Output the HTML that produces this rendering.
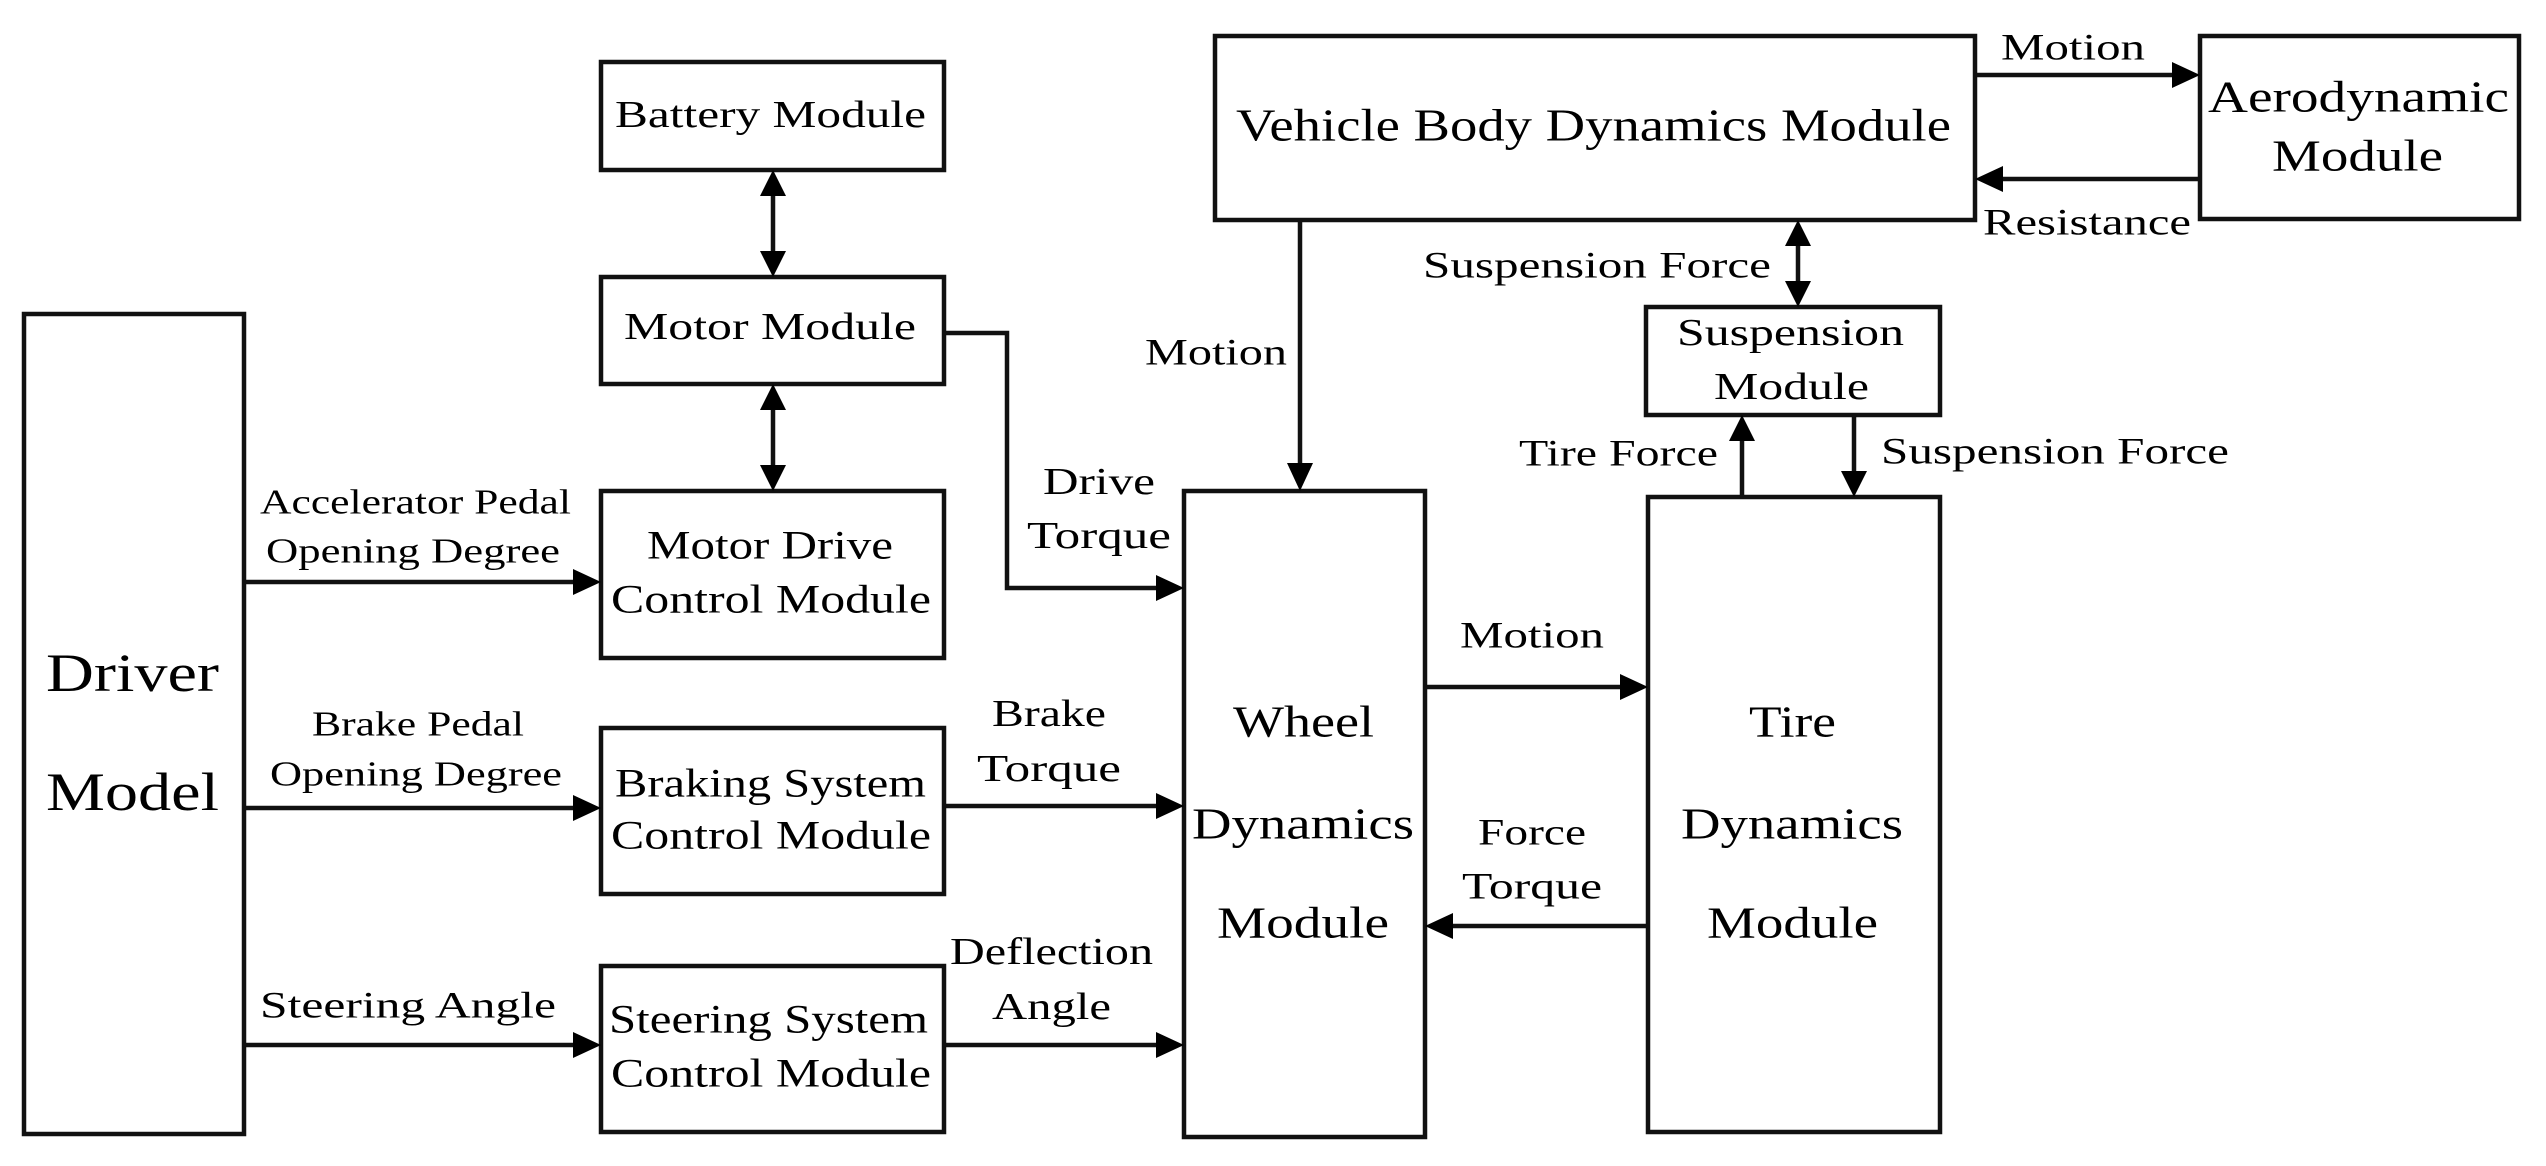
<!DOCTYPE html>
<html><head><meta charset="utf-8"><style>html,body{margin:0;padding:0;background:#fff}svg{display:block}</style></head>
<body>
<svg width="2546" height="1166" viewBox="0 0 2546 1166" xmlns="http://www.w3.org/2000/svg" font-family="'Liberation Serif', serif" fill="#000">
<g fill="none" stroke="#111" stroke-width="4.5">
<rect x="24" y="314" width="220" height="820"/>
<rect x="601" y="62" width="343" height="108"/>
<rect x="601" y="277" width="343" height="107"/>
<rect x="601" y="491" width="343" height="167"/>
<rect x="601" y="728" width="343" height="166"/>
<rect x="601" y="966" width="343" height="166"/>
<rect x="1215" y="36" width="760" height="184"/>
<rect x="2200" y="36" width="319" height="183"/>
<rect x="1646" y="307" width="294" height="108"/>
<rect x="1184" y="491" width="241" height="646"/>
<rect x="1648" y="497" width="292" height="635"/>
<line x1="773" y1="190" x2="773" y2="257"/>
<line x1="773" y1="404" x2="773" y2="471"/>
<line x1="244" y1="582" x2="575" y2="582"/>
<line x1="244" y1="808" x2="575" y2="808"/>
<line x1="244" y1="1045" x2="575" y2="1045"/>
<polyline points="944,333 1007,333 1007,588 1158,588"/>
<line x1="944" y1="806" x2="1158" y2="806"/>
<line x1="944" y1="1045" x2="1158" y2="1045"/>
<line x1="1975" y1="75" x2="2174" y2="75"/>
<line x1="2200" y1="179" x2="2001" y2="179"/>
<line x1="1300" y1="220" x2="1300" y2="465"/>
<line x1="1798" y1="240" x2="1798" y2="287"/>
<line x1="1742" y1="497" x2="1742" y2="435"/>
<line x1="1854" y1="415" x2="1854" y2="477"/>
<line x1="1425" y1="687" x2="1622" y2="687"/>
<line x1="1648" y1="926" x2="1451" y2="926"/>
</g>
<g fill="#000">
<polygon points="773,170 760,196 786,196"/><polygon points="773,277 760,251 786,251"/>
<polygon points="773,384 760,410 786,410"/><polygon points="773,491 760,465 786,465"/>
<polygon points="601,582 573,569 573,595"/>
<polygon points="601,808 573,795 573,821"/>
<polygon points="601,1045 573,1032 573,1058"/>
<polygon points="1184,588 1156,575 1156,601"/>
<polygon points="1184,806 1156,793 1156,819"/>
<polygon points="1184,1045 1156,1032 1156,1058"/>
<polygon points="2200,75 2172,62 2172,88"/>
<polygon points="1975,179 2003,166 2003,192"/>
<polygon points="1300,491 1287,463 1313,463"/>
<polygon points="1798,220 1785,246 1811,246"/><polygon points="1798,307 1785,281 1811,281"/>
<polygon points="1742,415 1729,441 1755,441"/>
<polygon points="1854,497 1841,471 1867,471"/>
<polygon points="1648,687 1620,674 1620,700"/>
<polygon points="1425,926 1453,913 1453,939"/>
</g>
<g dominant-baseline="central" lengthAdjust="spacingAndGlyphs">
<text x="46" y="673" font-size="54" textLength="173" lengthAdjust="spacingAndGlyphs">Driver</text>
<text x="46" y="792" font-size="54" textLength="173" lengthAdjust="spacingAndGlyphs">Model</text>
<text x="615" y="115" font-size="38" textLength="311" lengthAdjust="spacingAndGlyphs">Battery Module</text>
<text x="624" y="327" font-size="38" textLength="292" lengthAdjust="spacingAndGlyphs">Motor Module</text>
<text x="647" y="545" font-size="40" textLength="246" lengthAdjust="spacingAndGlyphs">Motor Drive</text>
<text x="611" y="599" font-size="40" textLength="320" lengthAdjust="spacingAndGlyphs">Control Module</text>
<text x="615" y="783" font-size="40" textLength="311" lengthAdjust="spacingAndGlyphs">Braking System</text>
<text x="611" y="835" font-size="40" textLength="320" lengthAdjust="spacingAndGlyphs">Control Module</text>
<text x="609" y="1019" font-size="40" textLength="319" lengthAdjust="spacingAndGlyphs">Steering System</text>
<text x="611" y="1073" font-size="40" textLength="320" lengthAdjust="spacingAndGlyphs">Control Module</text>
<text x="260" y="502" font-size="35" textLength="311" lengthAdjust="spacingAndGlyphs">Accelerator Pedal</text>
<text x="266" y="551" font-size="35" textLength="294" lengthAdjust="spacingAndGlyphs">Opening Degree</text>
<text x="312" y="724" font-size="35" textLength="212" lengthAdjust="spacingAndGlyphs">Brake Pedal</text>
<text x="270" y="774" font-size="35" textLength="292" lengthAdjust="spacingAndGlyphs">Opening Degree</text>
<text x="260" y="1006" font-size="37" textLength="296" lengthAdjust="spacingAndGlyphs">Steering Angle</text>
<text x="1043" y="482" font-size="38" textLength="112" lengthAdjust="spacingAndGlyphs">Drive</text>
<text x="1027" y="536" font-size="38" textLength="144" lengthAdjust="spacingAndGlyphs">Torque</text>
<text x="992" y="714" font-size="38" textLength="114" lengthAdjust="spacingAndGlyphs">Brake</text>
<text x="977" y="769" font-size="38" textLength="144" lengthAdjust="spacingAndGlyphs">Torque</text>
<text x="950" y="952" font-size="38" textLength="203" lengthAdjust="spacingAndGlyphs">Deflection</text>
<text x="992" y="1007" font-size="38" textLength="119" lengthAdjust="spacingAndGlyphs">Angle</text>
<text x="1145" y="353" font-size="37" textLength="142" lengthAdjust="spacingAndGlyphs">Motion</text>
<text x="1236" y="125" font-size="46" textLength="715" lengthAdjust="spacingAndGlyphs">Vehicle Body Dynamics Module</text>
<text x="2001" y="48" font-size="37" textLength="144" lengthAdjust="spacingAndGlyphs">Motion</text>
<text x="1983" y="223" font-size="37" textLength="208" lengthAdjust="spacingAndGlyphs">Resistance</text>
<text x="2208" y="97" font-size="44" textLength="301" lengthAdjust="spacingAndGlyphs">Aerodynamic</text>
<text x="2272" y="156" font-size="44" textLength="171" lengthAdjust="spacingAndGlyphs">Module</text>
<text x="1423" y="266" font-size="37" textLength="348" lengthAdjust="spacingAndGlyphs">Suspension Force</text>
<text x="1677" y="333" font-size="38" textLength="227" lengthAdjust="spacingAndGlyphs">Suspension</text>
<text x="1714" y="387" font-size="38" textLength="155" lengthAdjust="spacingAndGlyphs">Module</text>
<text x="1519" y="454" font-size="37" textLength="199" lengthAdjust="spacingAndGlyphs">Tire Force</text>
<text x="1881" y="452" font-size="37" textLength="348" lengthAdjust="spacingAndGlyphs">Suspension Force</text>
<text x="1460" y="636" font-size="37" textLength="144" lengthAdjust="spacingAndGlyphs">Motion</text>
<text x="1478" y="833" font-size="37" textLength="108" lengthAdjust="spacingAndGlyphs">Force</text>
<text x="1462" y="887" font-size="37" textLength="140" lengthAdjust="spacingAndGlyphs">Torque</text>
<text x="1233" y="722" font-size="44" textLength="141" lengthAdjust="spacingAndGlyphs">Wheel</text>
<text x="1192" y="824" font-size="44" textLength="222" lengthAdjust="spacingAndGlyphs">Dynamics</text>
<text x="1217" y="923" font-size="44" textLength="172" lengthAdjust="spacingAndGlyphs">Module</text>
<text x="1749" y="722" font-size="44" textLength="87" lengthAdjust="spacingAndGlyphs">Tire</text>
<text x="1681" y="824" font-size="44" textLength="222" lengthAdjust="spacingAndGlyphs">Dynamics</text>
<text x="1707" y="923" font-size="44" textLength="171" lengthAdjust="spacingAndGlyphs">Module</text>
</g>
</svg>
</body></html>
